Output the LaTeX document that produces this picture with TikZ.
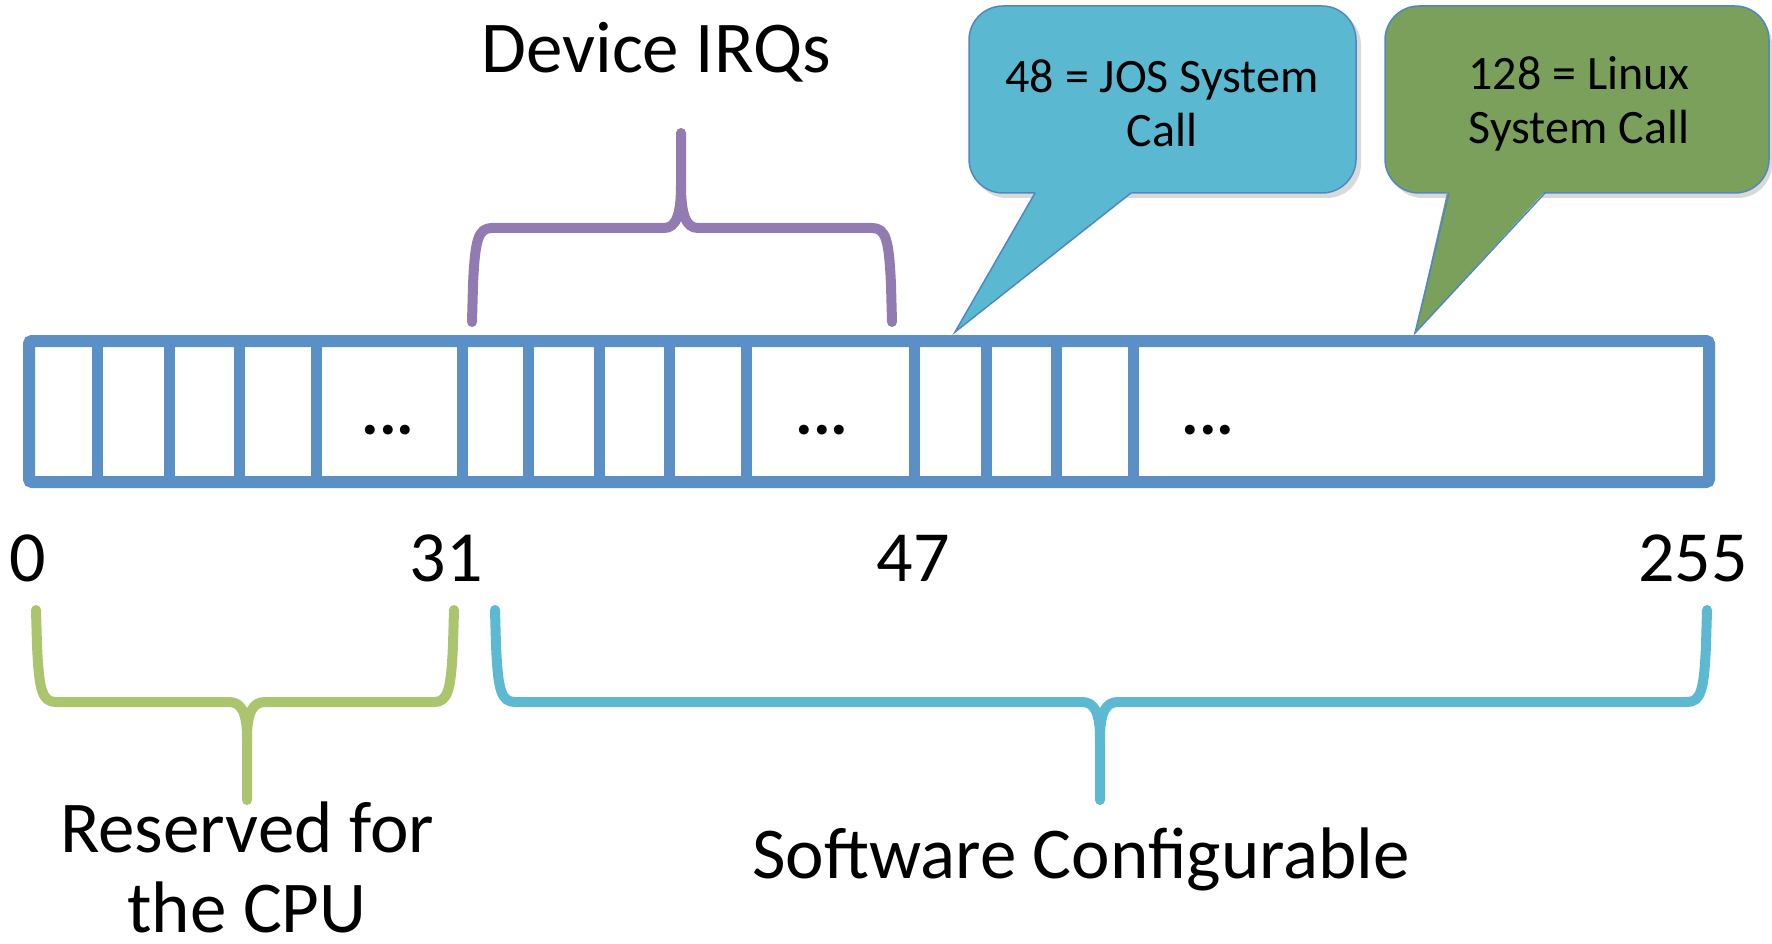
\documentclass[tikz,border=0pt]{standalone}
\usepackage{fontspec}
\setmainfont{Carlito}
\definecolor{rectblue}{RGB}{91,144,199}
\definecolor{irqpurple}{RGB}{145,123,176}
\definecolor{cpugreen}{RGB}{170,197,110}
\definecolor{swcyan}{RGB}{93,185,209}
\definecolor{josfill}{RGB}{91,184,209}
\definecolor{linuxfill}{RGB}{122,160,92}
\definecolor{callborder}{RGB}{80,135,195}
\tikzset{
  bigtext/.style={font=\fontsize{73}{84}\selectfont, inner sep=0pt},
  numtext/.style={font=\fontsize{72}{84}\selectfont, inner sep=0pt},
  calltext/.style={font=\fontsize{48}{54}\selectfont, inner sep=0pt, align=center},
  dotstext/.style={font=\fontsize{66}{70}\selectfont\bfseries, inner sep=0pt},
  vecbox/.style={draw=rectblue, line width=12pt, rounded corners=3pt},
  divider/.style={draw=rectblue, line width=11pt},
  bracepath/.style={line width=10pt, line cap=round, line join=round},
  calloutbox/.style={draw=callborder, line width=1.5pt, rounded corners=34pt},
  callshadow/.style={fill=black, opacity=0.15, rounded corners=34pt},
}
\begin{document}
\begin{tikzpicture}[x=1pt,y=-1pt]
\useasboundingbox (0,0) rectangle (1772,944);

% vector table
\draw[vecbox] (29,341) rectangle (1709,482);
\foreach \xx in {97,169,239,316,462,528,599,669,746,914,986,1056,1133}{
  \draw[divider] (\xx,338) -- (\xx,486);
}
\node[dotstext, anchor=base] (dots1) at (388,434) {...};
\node[dotstext, anchor=base] (dots2) at (822,434) {...};
\node[dotstext, anchor=base] (dots3) at (1208,434) {...};

% numbers
\node[numtext, anchor=base] (n0) at (28,581) {0};
\node[numtext, anchor=base] (n31) at (446,581) {31};
\node[numtext, anchor=base] (n47) at (913,581) {47};
\node[numtext, anchor=base] (n255) at (1693,581) {255};

% Device IRQs brace
\draw[bracepath, irqpurple]
  (472,322) -- (473,285) .. controls (475,240) and (478,228) .. (492,228)
  -- (664,228) .. controls (676,228) and (681,215) .. (681,185) -- (681,133);
\draw[bracepath, irqpurple]
  (892,322) -- (891,285) .. controls (889,240) and (886,228) .. (872,228)
  -- (698,228) .. controls (686,228) and (681,215) .. (681,185);
\node[bigtext, anchor=base] (irq) at (656,73) {Device IRQs};

% CPU brace
\draw[bracepath, cpugreen]
  (36,610) -- (37,645) .. controls (39,690) and (42,702) .. (56,702)
  -- (229,702) .. controls (241,702) and (247,712) .. (247,738) -- (247,800);
\draw[bracepath, cpugreen]
  (454,610) -- (453,645) .. controls (451,690) and (448,702) .. (434,702)
  -- (265,702) .. controls (253,702) and (247,712) .. (247,738);
\node[bigtext, anchor=base] (cpu) at (247,852) {Reserved for};
\node[bigtext, anchor=base] (cpu2) at (247,932) {the CPU};

% Software brace
\draw[bracepath, swcyan]
  (495,610) -- (496,645) .. controls (498,690) and (501,702) .. (515,702)
  -- (1082,702) .. controls (1094,702) and (1100,712) .. (1100,738) -- (1100,800);
\draw[bracepath, swcyan]
  (1707,610) -- (1706,645) .. controls (1704,690) and (1701,702) .. (1687,702)
  -- (1118,702) .. controls (1106,702) and (1100,712) .. (1100,738);
\node[bigtext, anchor=base] (sw) at (1081,878) {Software Configurable};

% JOS callout
\coordinate (jostip) at (955,332);
\path[callshadow] (973,11) rectangle (1361,198);
\draw[calloutbox, fill=josfill] (969,6) rectangle (1356,193);
\fill[josfill] (1038,188) -- (jostip) -- (1137,188) -- cycle;
\draw[callborder, line width=1.5pt, line join=miter] (1035,193) -- (jostip) -- (1131,193);
\node[calltext] (jos) at (1162,103) {48 = JOS System\\Call};

% Linux callout
\coordinate (lintip) at (1415,333);
\path[callshadow] (1389,11) rectangle (1772,198);
\draw[calloutbox, fill=linuxfill] (1385,6) rectangle (1769,193);
\fill[linuxfill] (1448,188) -- (lintip) -- (1548,188) -- cycle;
\draw[callborder, line width=1.5pt, line join=miter] (1449,193) -- (lintip) -- (1545,193);
\node[calltext] (linux) at (1579,104) {128 = Linux\\System Call};
\end{tikzpicture}
\end{document}
